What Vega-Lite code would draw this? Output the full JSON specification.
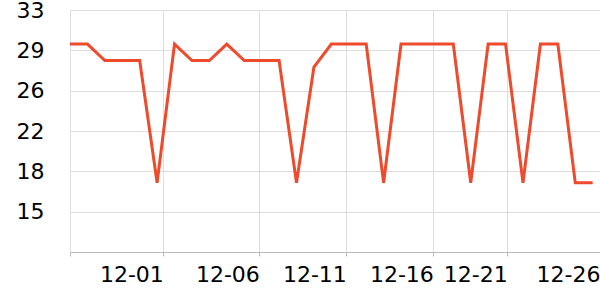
{
  "$schema": "https://vega.github.io/schema/vega-lite/v6.json",
  "width": 530,
  "height": 242,
  "autosize": {"type": "none"},
  "padding": {"left": 70, "top": 10, "right": 0, "bottom": 48},
  "background": "white",
  "config": {
    "view": {"stroke": null},
    "font": "DejaVu Sans"
  },
  "data": {
    "values": [
      {"date": "2023-11-26T00:00:00", "value": 29.9},
      {"date": "2023-11-27T00:00:00", "value": 29.9},
      {"date": "2023-11-28T00:00:00", "value": 28.4},
      {"date": "2023-11-29T00:00:00", "value": 28.4},
      {"date": "2023-11-30T00:00:00", "value": 28.4},
      {"date": "2023-12-01T00:00:00", "value": 17.3},
      {"date": "2023-12-02T00:00:00", "value": 29.9},
      {"date": "2023-12-03T00:00:00", "value": 28.4},
      {"date": "2023-12-04T00:00:00", "value": 28.4},
      {"date": "2023-12-05T00:00:00", "value": 29.9},
      {"date": "2023-12-06T00:00:00", "value": 28.4},
      {"date": "2023-12-07T00:00:00", "value": 28.4},
      {"date": "2023-12-08T00:00:00", "value": 28.4},
      {"date": "2023-12-09T00:00:00", "value": 17.3},
      {"date": "2023-12-10T00:00:00", "value": 27.8},
      {"date": "2023-12-11T00:00:00", "value": 29.9},
      {"date": "2023-12-12T00:00:00", "value": 29.9},
      {"date": "2023-12-13T00:00:00", "value": 29.9},
      {"date": "2023-12-14T00:00:00", "value": 17.3},
      {"date": "2023-12-15T00:00:00", "value": 29.9},
      {"date": "2023-12-16T00:00:00", "value": 29.9},
      {"date": "2023-12-17T00:00:00", "value": 29.9},
      {"date": "2023-12-18T00:00:00", "value": 29.9},
      {"date": "2023-12-19T00:00:00", "value": 17.3},
      {"date": "2023-12-20T00:00:00", "value": 29.9},
      {"date": "2023-12-21T00:00:00", "value": 29.9},
      {"date": "2023-12-22T00:00:00", "value": 17.3},
      {"date": "2023-12-23T00:00:00", "value": 29.9},
      {"date": "2023-12-24T00:00:00", "value": 29.9},
      {"date": "2023-12-25T00:00:00", "value": 17.3},
      {"date": "2023-12-26T00:00:00", "value": 17.3}
    ]
  },
  "mark": {"type": "line", "color": "#ee4a2c", "strokeWidth": 3, "strokeJoin": "miter"},
  "encoding": {
    "x": {
      "field": "date",
      "type": "temporal",
      "scale": {
        "domain": [
          {"year": 2023, "month": 11, "date": 26, "hours": 0},
          {"year": 2023, "month": 12, "date": 26, "hours": 10, "minutes": 5}
        ]
      },
      "axis": {
        "title": null,
        "values": [
          {"year": 2023, "month": 11, "date": 26, "hours": 0},
          {"year": 2023, "month": 12, "date": 1, "hours": 8, "minutes": 33},
          {"year": 2023, "month": 12, "date": 6, "hours": 20, "minutes": 48},
          {"year": 2023, "month": 12, "date": 11, "hours": 20, "minutes": 38},
          {"year": 2023, "month": 12, "date": 16, "hours": 20, "minutes": 33},
          {"year": 2023, "month": 12, "date": 21, "hours": 2, "minutes": 24},
          {"year": 2023, "month": 12, "date": 26, "hours": 10, "minutes": 5}
        ],
        "labelExpr": "datum.value < datetime(2023, 10, 27) ? '' : timeFormat(datum.value, '%m-%d')",
        "labelAlign": "right",
        "labelFontSize": 22,
        "labelColor": "#000000",
        "labelPadding": 8,
        "labelOverlap": false,
        "labelFlush": false,
        "tickSize": 4,
        "tickColor": "#bbbbbb",
        "domainColor": "#bbbbbb",
        "gridColor": "#dddddd",
        "grid": true
      }
    },
    "y": {
      "field": "value",
      "type": "quantitative",
      "scale": {"domain": [11, 33], "nice": false, "zero": false},
      "axis": {
        "title": null,
        "values": [14.6667, 18.3333, 22, 25.6667, 29.3333, 33],
        "format": ".0f",
        "labelFontSize": 22,
        "labelColor": "#000000",
        "labelPadding": 26,
        "ticks": false,
        "domain": false,
        "gridColor": "#dddddd"
      }
    }
  }
}
